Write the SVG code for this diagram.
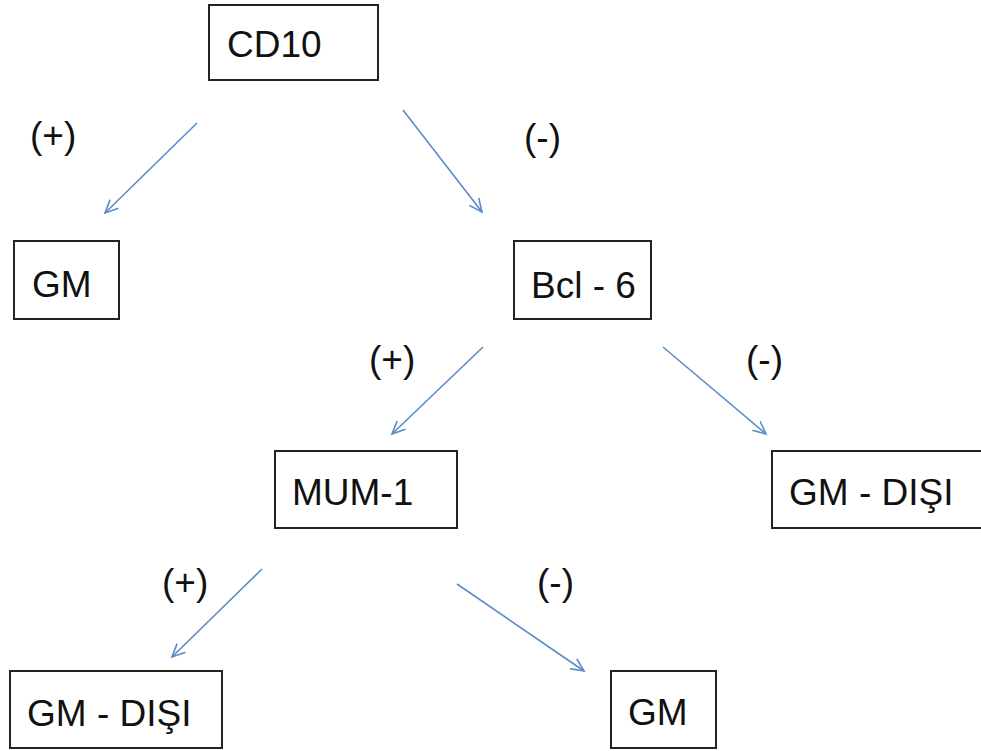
<svg xmlns="http://www.w3.org/2000/svg" width="981" height="751" viewBox="0 0 981 751">
<style>
.box{fill:#fff;stroke:#222;stroke-width:2}
.t{font-family:"Liberation Sans",Arial,sans-serif;font-size:37px;fill:#111}
.c{stroke:#5b8cc8;stroke-width:1.6;fill:none}
</style>
<defs>
<marker id="ah" markerUnits="userSpaceOnUse" markerWidth="16" markerHeight="16" refX="13" refY="6" orient="auto" viewBox="0 0 16 12">
<path d="M0,0 L13,6 L0,12" fill="none" stroke="#5b8cc8" stroke-width="1.6"/>
</marker>
</defs>
<rect width="981" height="751" fill="#fff"/>
<g id="connectors">
<line class="c" x1="197" y1="123" x2="105" y2="213" marker-end="url(#ah)"/>
<line class="c" x1="403" y1="110" x2="482" y2="212" marker-end="url(#ah)"/>
<line class="c" x1="483" y1="347" x2="392" y2="434" marker-end="url(#ah)"/>
<line class="c" x1="663" y1="347" x2="766" y2="434" marker-end="url(#ah)"/>
<line class="c" x1="262" y1="569" x2="172" y2="657" marker-end="url(#ah)"/>
<line class="c" x1="457" y1="584" x2="584" y2="671" marker-end="url(#ah)"/>
</g>
<g id="labels">
<text class="t" x="30" y="148">(+)</text>
<text class="t" x="524" y="150">(-)</text>
<text class="t" x="369" y="372">(+)</text>
<text class="t" x="746" y="372">(-)</text>
<text class="t" x="162" y="595">(+)</text>
<text class="t" x="537" y="595">(-)</text>
</g>
<g id="cd10"><rect class="box" x="209" y="5" width="169" height="75"/><text class="t" x="227" y="57">CD10</text></g>
<g id="gm1"><rect class="box" x="14" y="241" width="105" height="78"/><text class="t" x="32" y="297">GM</text></g>
<g id="bcl6"><rect class="box" x="514" y="241" width="137" height="78"/><text class="t" x="531" y="298">Bcl - 6</text></g>
<g id="mum1"><rect class="box" x="275" y="451" width="182" height="77"/><text class="t" x="292" y="505">MUM-1</text></g>
<g id="gmdisi1"><rect class="box" x="772" y="451" width="220" height="77"/><text class="t" x="789" y="505">GM - DIŞI</text></g>
<g id="gmdisi2"><rect class="box" x="10" y="671" width="212" height="77"/><text class="t" x="27" y="726">GM - DIŞI</text></g>
<g id="gm2"><rect class="box" x="611" y="671" width="105" height="77"/><text class="t" x="628" y="725">GM</text></g>
</svg>
